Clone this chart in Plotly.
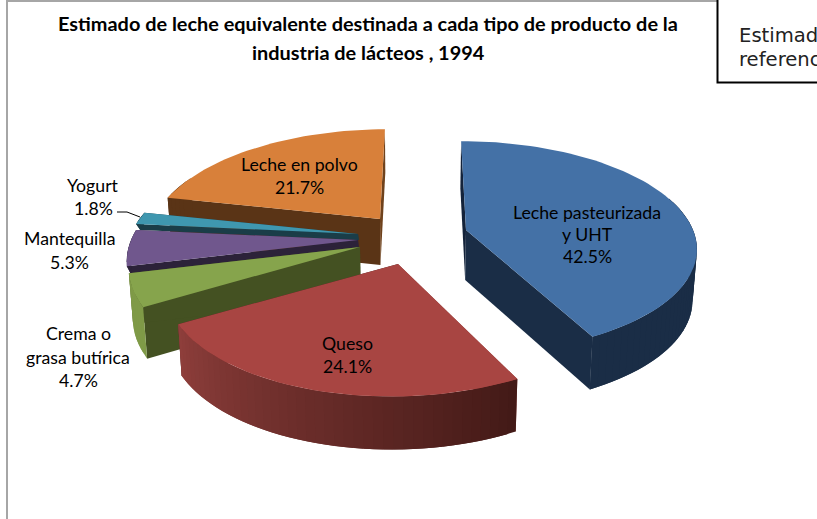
import numpy as np
import plotly.graph_objects as go

categories = ["Leche pasteurizada y UHT", "Queso", "Crema o grasa butírica", "Mantequilla", "Yogurt", "Leche en polvo"]
values = [42.5, 24.1, 4.7, 5.3, 1.8, 21.7]
title_lines = ["Estimado de leche equivalente destinada a cada tipo de producto de la",
               "industria de lácteos , 1994"]
side_lines = ["Estimado de", "referencia"]

# styling / layout of the exploded 3-D pie (image pixels)
apex = [(466, 230), (398, 264), (360, 247), (358, 240), (358, 234), (380, 219)]
lean = [0.055, -0.05, 0, 0, 0, -0.055]
depth = [50, 50, 50, 8, 6, 46]
persp = [0.159, 0.193, 0.193, 0.193, 0.193, 0.193]
ry = [103, 107, 107, 107, 107, 107]
top_col = ["#4471A6", "#A84542", "#86A44C", "#70578D", "#3F97AF", "#D8803A"]
side_col = ["#1A2D46", "#43221F", "#445122", "#2C2239", "#1A3D48", "#6F421C"]
wall_start = ["#1A2D46", "#431A17", "#7F9A47", "#2C2239", "#1A3D48", "#5A3416"]
wall_end = ["#1A2D46", "#8F3F3C", "#7F9A47", "#2C2239", "#1A3D48", "#5A3416"]
radial_col = ["#14233A", "#8F3F3C", "#445122", "#2C2239", "#1A3D48", "#5A3416"]
RX, CX = 227.0, 410.0

label_lines = [
    (["Leche pasteurizada", "y UHT", "42.5%"], 587, [212, 234, 256]),
    (["Queso", "24.1%"], 347, [343, 366]),
    (["Crema o", "grasa butírica", "4.7%"], 78, [333, 357, 380]),
    (["Mantequilla", "5.3%"], 69, [238, 262]),
    (["Yogurt", "1.8%"], 93, [185, 208]),
    (["Leche en polvo", "21.7%"], 299, [164, 187]),
]


def hex2rgb(h):
    return np.array([int(h[i:i + 2], 16) for i in (1, 3, 5)], float)


def project(i, deg):
    t = np.radians(np.asarray(deg, float))
    w = 1 / (1 + persp[i] * np.cos(t))
    x = RX * np.sin(t) * w
    y = -ry[i] * np.cos(t) * w
    return apex[i][0] + x + lean[i] * y, apex[i][1] + y


def lower(i, x, y, deg=None):
    x, y = np.asarray(x, float), np.asarray(y, float)
    d = depth[i] if deg is None else depth[i] * (1 - 0.06 * np.cos(np.radians(deg)))
    return x - (x - CX) * 0.015, y + d


fig = go.Figure()


def poly(xs, ys, color):
    fig.add_trace(go.Scatter(x=list(xs), y=list(ys), mode="lines", fill="toself", fillcolor=color,
                             line=dict(width=0), hoverinfo="skip", showlegend=False))


edges = np.concatenate([[0], np.cumsum(values)]) / sum(values) * 360
order = [0, 5, 4, 3, 2, 1]  # back to front

for i in order:
    a0, a1 = edges[i], edges[i + 1]
    th = np.linspace(a0, a1, max(int((a1 - a0) / 2), 6))
    ax, ay = apex[i]
    ex, ey = project(i, th)
    # radial cut walls
    for a in (a0, a1):
        px, py = project(i, a)
        bx, by = lower(i, px, py, a)
        abx, aby = lower(i, ax, ay)
        poly([ax, px, bx, abx, ax], [ay, py, by, aby, ay], radial_col[i] if a == a0 else side_col[i])
    # outer wall, in overlapping strips for the shading
    n = len(th) - 1
    c0, c1 = hex2rgb(wall_start[i]), hex2rgb(wall_end[i])
    for j in range(n):
        if not np.cos(np.radians(th[j])) < 0.35:
            continue
        k = min(j + 3, n + 1)
        sx, sy = ex[j:k], ey[j:k]
        bx, by = lower(i, sx, sy, th[j:k])
        c = c0 + (c1 - c0) * (j + 0.5) / n
        col = "rgb(%d,%d,%d)" % tuple(c)
        poly(np.concatenate([sx, bx[::-1], sx[:1]]), np.concatenate([sy, by[::-1], sy[:1]]), col)
    # top face
    poly(np.concatenate([[ax], ex, [ax]]), np.concatenate([[ay], ey, [ay]]), top_col[i])

# leader line for Yogurt
fig.add_trace(go.Scatter(x=[117, 127, 140], y=[212, 212, 217], mode="lines",
                         line=dict(color="#000000", width=1), hoverinfo="skip", showlegend=False))


def text(s, x, y, size=17.7, bold=False, family="Lato", anchor="center", color="#000000"):
    fig.add_annotation(x=x, y=y, text="<b>%s</b>" % s if bold else s, showarrow=False, xanchor=anchor,
                       yanchor="middle", font=dict(family=family, size=size, color=color))


for lines, x, ys in label_lines:
    for s, y in zip(lines, ys):
        text(s, x, y)

text(title_lines[0], 368, 23, size=19.9, bold=True)
text(title_lines[1], 368, 52, size=19.9, bold=True)

shapes = [
    dict(type="line", x0=7, x1=7, y0=0, y1=519, line=dict(color="#A6A6A6", width=2)),
    dict(type="line", x0=6, x1=717, y0=1, y1=1, line=dict(color="#A6A6A6", width=2)),
    dict(type="rect", x0=717.5, x1=830, y0=-5, y1=82.5, fillcolor="#FFFFFF", line=dict(color="#000000", width=2)),
]
text(side_lines[0], 737, 35, size=19.6, family="DejaVu Sans", anchor="left", color="#222222")
text(side_lines[1], 737, 59, size=19.6, family="DejaVu Sans", anchor="left", color="#222222")

fig.update_layout(
    width=817, height=519, margin=dict(l=0, r=0, t=0, b=0), autosize=False,
    paper_bgcolor="#FFFFFF", plot_bgcolor="#FFFFFF", shapes=shapes, showlegend=False,
    xaxis=dict(range=[0, 817], visible=False, fixedrange=True),
    yaxis=dict(range=[519, 0], visible=False, fixedrange=True),
)
fig.write_html("out.html", config=dict(displayModeBar=False),
               post_script="document.body.style.margin='0';document.body.style.overflow='hidden';")
